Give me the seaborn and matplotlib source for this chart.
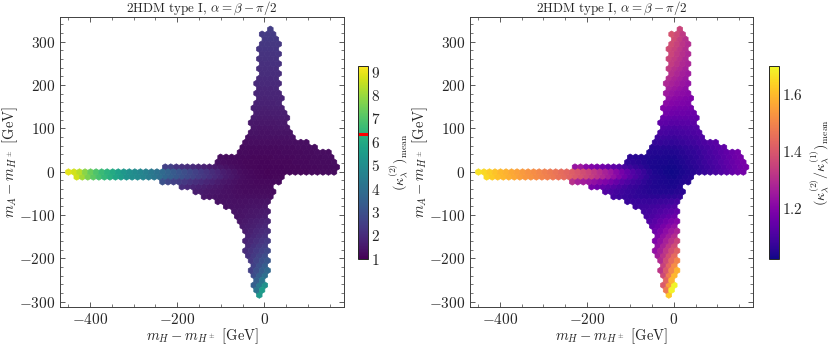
import numpy as np
import matplotlib
matplotlib.use("Agg")
import matplotlib.pyplot as plt
from matplotlib.ticker import MultipleLocator
import seaborn as sns

# outline of the scanned region
# rows of the vertical arm + central body: y -> (x left, x right)
env_y = [-290, -265, -235, -211, -180, -142, -112, -96, -81, -70, -58, -46, -35, -23, -8, -4,
         20, 30, 40, 50, 62, 75, 100, 135, 165, 200, 240, 290, 320, 335]
env_xl = [-14, -23, -29, -35, -42, -46, -54, -65, -84, -105, -115, -146, -165, -218, -170, -160,
          -107, -105, -62, -55, -44, -38, -32, -24, -20, -16, -13, -9, -2, 13]
env_xr = [-8, 1, 6, 7, 8, 8, 8, 9, 9, 11, 13, 17, 22, 31, 45, 165,
          165, 158, 150, 130, 105, 77, 56, 46, 38, 32, 31, 31, 30, 17]

# long arm towards negative m_H - m_H+: x -> (y bottom, y top)
arm_x = [-447, -430, -235, -225, -205, -170, -150, -115, -60]
arm_yb = [-5, -18, -18, -29, -29, -40, -52, -64, -64]
arm_yt = [6, 6, 6, 6, 17, 17, 17, 17, 17]

stray_x = [-230]
stray_y = [11]

# left panel: (kappa^(2))_mean along the arms
k2_base = 1.05
k2_left_x = [-445, -427, -414, -403, -376, -345, -315, -284, -245, -207, -169, -130, -90, -50, 0]
k2_left_v = [9.25, 8.9, 8.3, 7.8, 7.0, 6.2, 5.4, 5.0, 4.2, 3.4, 2.8, 2.2, 1.6, 1.2, 1.05]
k2_up_y = [0, 50, 100, 150, 200, 250, 300, 330]
k2_up_v = [1.05, 1.15, 1.4, 1.7, 1.9, 2.1, 2.3, 2.5]
k2_dn_y = [-285, -265, -235, -200, -150, -100, -50, 0]
k2_dn_v = [6.0, 4.8, 3.5, 2.8, 2.0, 1.5, 1.2, 1.05]
k2_right_x = [0, 50, 100, 165]
k2_right_v = [1.05, 1.08, 1.12, 1.2]
k2_up_tilt = [1.0, 1.0]
k2_dn_tilt = [0.6, 1.2]

# right panel: (kappa^(2)/kappa^(1))_mean along the arms
r_base = 1.02
r_left_x = [-445, -420, -400, -350, -300, -250, -200, -150, -100, -50, 0]
r_left_v = [1.69, 1.66, 1.63, 1.57, 1.52, 1.46, 1.38, 1.27, 1.13, 1.04, 1.02]
r_up_y = [0, 50, 100, 150, 200, 250, 300, 330]
r_up_v = [1.02, 1.04, 1.1, 1.18, 1.25, 1.31, 1.34, 1.35]
r_dn_y = [-285, -265, -235, -200, -150, -100, -50, 0]
r_dn_v = [1.68, 1.6, 1.5, 1.4, 1.26, 1.13, 1.04, 1.02]
r_right_x = [0, 50, 100, 165]
r_right_v = [1.02, 1.05, 1.1, 1.18]
r_up_tilt = [1.15, 0.8]
r_dn_tilt = [0.6, 1.25]

# how strongly the long arm colour reaches the neighbouring rows
band_y = [-60, -35, -23, -12, 0, 11, 25]
band_w = [0.2, 0.4, 0.6, 1.0, 1.0, 0.45, 0.2]

# scan points on a fine grid inside the outline
gx, gy = np.meshgrid(np.arange(-460, 180, 2.0), np.arange(-295, 340, 2.0))
gx, gy = gx.ravel(), gy.ravel()
xl = np.interp(gy, env_y, env_xl)
xr = np.interp(gy, env_y, env_xr)
in_v = (gy >= env_y[0]) & (gy <= env_y[-1]) & (gx >= xl) & (gx <= xr)
in_h = ((gx >= arm_x[0]) & (gx <= arm_x[-1])
        & (gy >= np.interp(gx, arm_x, arm_yb)) & (gy <= np.interp(gx, arm_x, arm_yt)))
in_s = np.zeros_like(gx, dtype=bool)
for sx_, sy_ in zip(stray_x, stray_y):
    in_s |= (np.abs(gx - sx_) < 6) & (np.abs(gy - sy_) < 7)
keep = in_v | in_h | in_s
px, py = gx[keep], gy[keep]
t = np.clip((px - np.interp(py, env_y, env_xl)) /
            np.maximum(np.interp(py, env_y, env_xr) - np.interp(py, env_y, env_xl), 1), 0, 1)


def field(base, lx, lv, uy, uv, dy, dv, rx, rv, up_tilt, dn_tilt):
    left = (np.interp(px, lx, lv) - base) * np.interp(py, band_y, band_w)
    up = (np.interp(py, uy, uv) - base) * np.interp(t, [0, 1], up_tilt)
    dn = (np.interp(py, dy, dv) - base) * np.interp(t, [0, 1], dn_tilt)
    right = np.interp(px, rx, rv) - base
    return base + left + up + dn + right


k2 = field(k2_base, k2_left_x, k2_left_v, k2_up_y, k2_up_v, k2_dn_y, k2_dn_v,
           k2_right_x, k2_right_v, k2_up_tilt, k2_dn_tilt)
ratio = field(r_base, r_left_x, r_left_v, r_up_y, r_up_v, r_dn_y, r_dn_v,
              r_right_x, r_right_v, r_up_tilt, r_dn_tilt)

sns.set_style("ticks")
plt.rcParams["font.family"] = "serif"
plt.rcParams["font.serif"] = ["cmr10", "DejaVu Serif"]
plt.rcParams["mathtext.fontset"] = "cm"
plt.rcParams["axes.formatter.use_mathtext"] = True
plt.rcParams["axes.unicode_minus"] = True

fig = plt.figure(figsize=(8.3, 3.46), dpi=100)
ax1 = fig.add_axes([0.0723, 0.1136, 0.3422, 0.8364])
ax2 = fig.add_axes([0.5663, 0.1136, 0.3413, 0.8364])
cax1 = fig.add_axes([0.4317, 0.2506, 0.012, 0.5595])
cax2 = fig.add_axes([0.9265, 0.2506, 0.012, 0.5595])

extent = (-456, 179, -284.6, 328.3)
panels = [
    (ax1, cax1, k2, sns.color_palette("viridis", as_cmap=True), 0.97, 9.26,
     r"$(\kappa_\lambda^{(2)})_{\rm mean}$", list(range(1, 10)), 5),
    (ax2, cax2, ratio, sns.color_palette("plasma", as_cmap=True), 1.02, 1.70,
     r"$(\kappa_\lambda^{(2)}/\kappa_\lambda^{(1)})_{\rm mean}$", [1.2, 1.4, 1.6], 4),
]

for ax, cax, vals, cmap, vmin, vmax, clabel, cticks, cpad in panels:
    hb = ax.hexbin(px, py, C=vals, reduce_C_function=np.mean, gridsize=(50, 27),
                   extent=extent, mincnt=10, cmap=cmap, vmin=vmin, vmax=vmax,
                   linewidths=0.5, edgecolors="face")
    ax.set_xlim(-469, 183)
    ax.set_ylim(-311.5, 356)
    ax.set_title(r"2HDM type I, $\alpha = \beta - \pi/2$", fontsize=9.4, pad=2.5)
    ax.set_xlabel(r"$m_H - m_{H^\pm}$ [GeV]", fontsize=10.5, labelpad=0)
    ax.set_ylabel(r"$m_A - m_{H^\pm}$ [GeV]", fontsize=10.5, labelpad=-1)
    ax.xaxis.set_major_locator(MultipleLocator(200))
    ax.xaxis.set_minor_locator(MultipleLocator(50))
    ax.yaxis.set_major_locator(MultipleLocator(100))
    ax.yaxis.set_minor_locator(MultipleLocator(20))
    ax.tick_params(which="both", direction="in", top=True, right=True, labelsize=11,
                   color="0.25")
    ax.tick_params(which="major", length=3.5, width=0.6)
    ax.tick_params(which="minor", length=2, width=0.5)
    for s in ax.spines.values():
        s.set_linewidth(0.7)
        s.set_color("0.25")

    cb = fig.colorbar(hb, cax=cax)
    cb.set_ticks(cticks)
    cb.ax.minorticks_off()
    cb.ax.tick_params(direction="in", length=2.5, width=0.5, labelsize=11, pad=2)
    cb.outline.set_linewidth(0.7)
    cb.set_label(clabel, fontsize=10, labelpad=cpad)

# marker line on the left colour bar
cax1.axhline(6.32, color="red", lw=2.2)

fig.savefig("out.png", dpi=100)
